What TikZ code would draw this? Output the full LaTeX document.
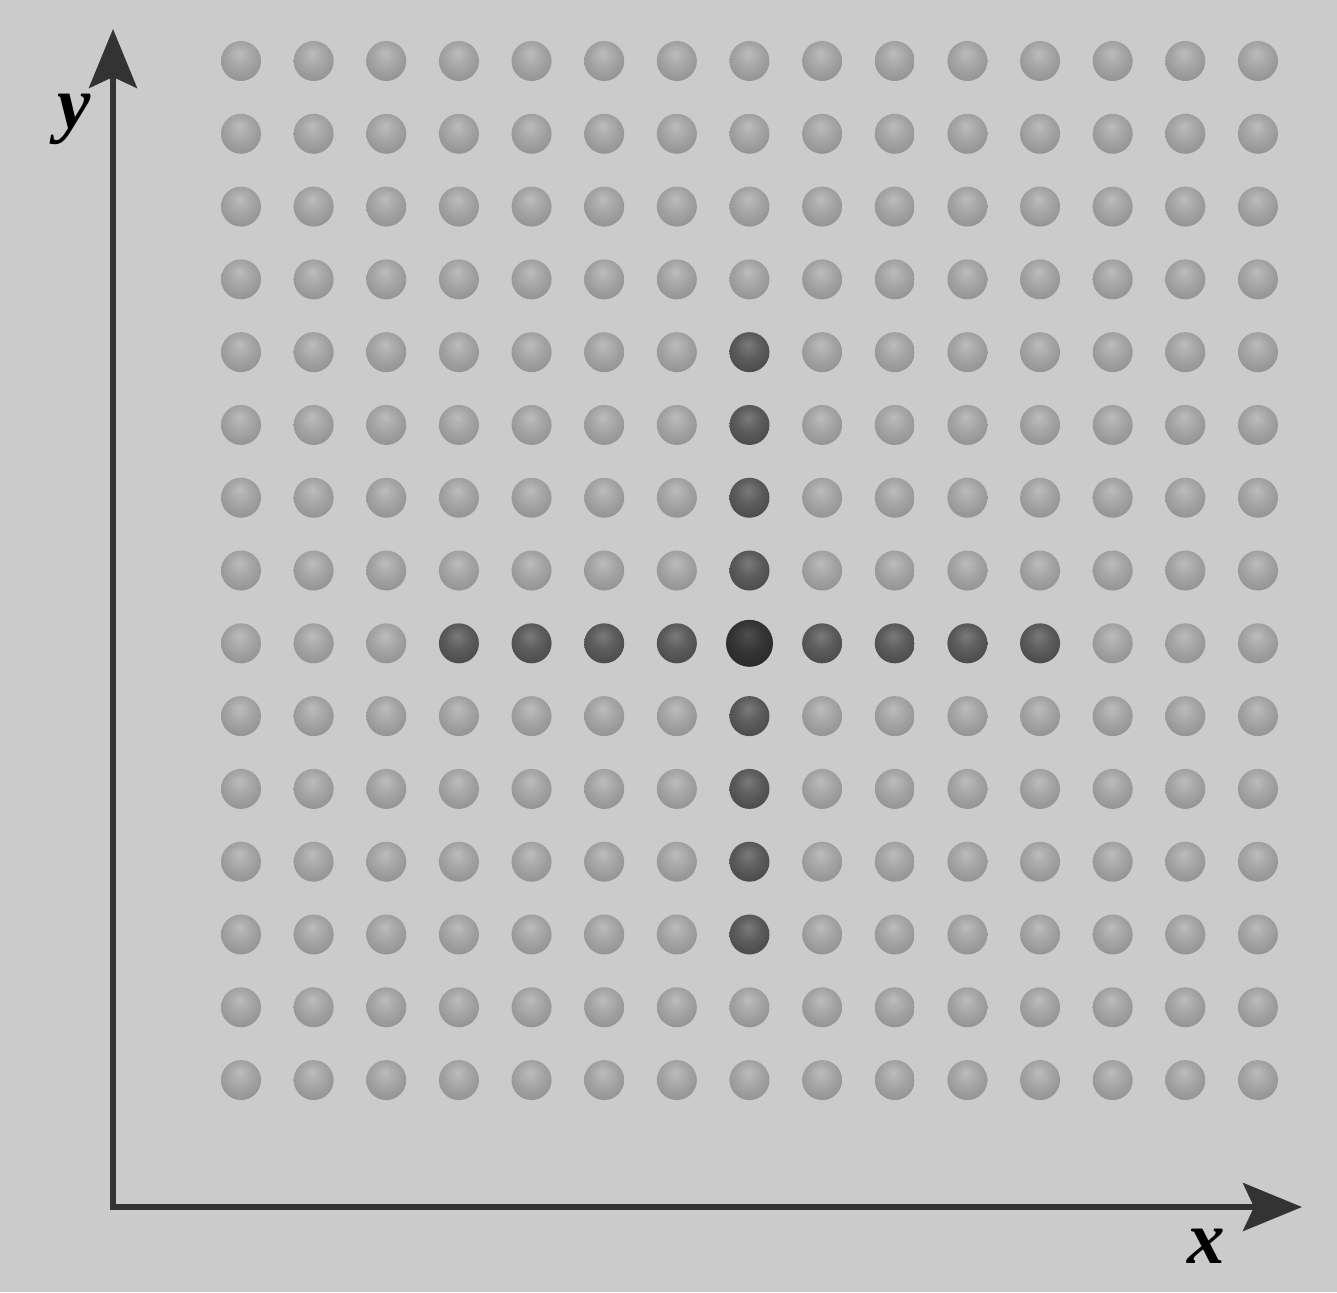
\documentclass[tikz,border=0pt]{standalone}
\usepackage{fontspec}
\setmainfont{Liberation Serif}
\usetikzlibrary{arrows.meta}
\definecolor{bggray}{HTML}{CBCBCB}
\definecolor{axisgray}{HTML}{333333}
\definecolor{lighthi}{HTML}{BCBCBC}
\definecolor{lightmid}{HTML}{A4A4A4}
\definecolor{lightedge}{HTML}{868686}
\definecolor{darkhi}{HTML}{7A7A7A}
\definecolor{darkmid}{HTML}{5C5C5C}
\definecolor{darkedge}{HTML}{3E3E3E}
\definecolor{corehi}{HTML}{4E4E4E}
\definecolor{coremid}{HTML}{353535}
\definecolor{coreedge}{HTML}{202020}
\pgfdeclareradialshading{lightball}{\pgfpoint{-2bp}{10bp}}{color(0bp)=(lighthi); color(16bp)=(lightmid); color(40bp)=(lightedge); color(50bp)=(lightedge)}
\pgfdeclareradialshading{darkball}{\pgfpoint{-2bp}{10bp}}{color(0bp)=(darkhi); color(16bp)=(darkmid); color(40bp)=(darkedge); color(50bp)=(darkedge)}
\pgfdeclareradialshading{coreball}{\pgfpoint{-2bp}{10bp}}{color(0bp)=(corehi); color(16bp)=(coremid); color(40bp)=(coreedge); color(50bp)=(coreedge)}
\begin{document}
\begin{tikzpicture}[
    x=1pt, y=-1pt,
    sphere/.style={circle,inner sep=0pt,minimum size=40pt,shading=lightball},
    marked/.style={sphere,shading=darkball},
    core/.style={sphere,minimum size=47pt,shading=coreball},
    axis/.style={line width=5.5pt,draw=axisgray,
        -{Stealth[length=59pt,width=48pt,inset=11pt,fill=axisgray]}},
    axislabel/.style={inner sep=0pt,anchor=base,font=\fontsize{75}{75}\selectfont\bfseries\itshape}
]
\fill[bggray] (0,0) rectangle (1337,1292);
\useasboundingbox (0,0) rectangle (1337,1292);
% lattice of spheres
\foreach \i in {0,...,14}{
  \foreach \j in {0,...,14}{
    \pgfmathsetmacro{\px}{241+72.64*\i}
    \pgfmathsetmacro{\py}{61+72.79*\j}
    \ifnum\i=7
      \ifnum\j>3 \ifnum\j<13
        \def\kind{marked}
      \else \def\kind{sphere}\fi
      \else \def\kind{sphere}\fi
    \else
      \ifnum\j=8
        \ifnum\i>2 \ifnum\i<12
          \def\kind{marked}
        \else \def\kind{sphere}\fi
        \else \def\kind{sphere}\fi
      \else \def\kind{sphere}\fi
    \fi
    \ifnum\i=7 \ifnum\j=8 \def\kind{core}\fi\fi
    \node[\kind] (ball-\i-\j) at (\px,\py) {};
  }
}
% axes
\coordinate (origin) at (113,1207);
\coordinate (ytip) at (113,29);
\coordinate (xtip) at (1302,1207);
\draw[axis,line cap=rect] (origin) -- (ytip);
\draw[axis] (origin) -- (xtip);
\node[axislabel] (ylabel) at (74,129) {y};
\node[axislabel] (xlabel) at (1206,1263) {x};
\end{tikzpicture}
\end{document}
